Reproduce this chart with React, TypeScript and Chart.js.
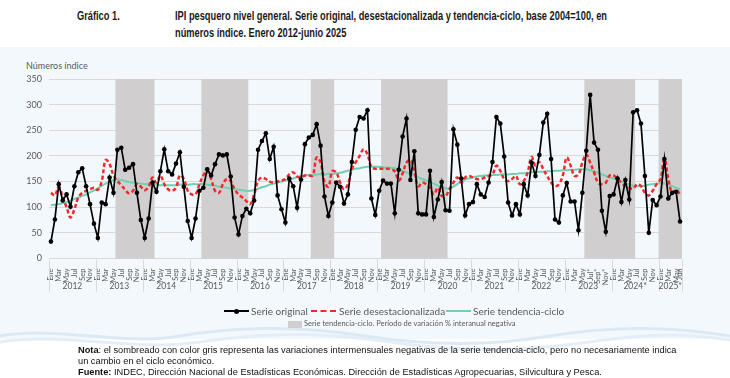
import React, { useEffect, useLayoutEffect, useRef } from "react";
import { Chart, registerables } from "chart.js";
Chart.register(...registerables);

// ---------- DATA ----------
const monthNames = ["Ene", "Feb", "Mar", "Abr", "May", "Jun", "Jul", "Ago", "Sep", "Oct", "Nov", "Dic"];
const yearLabels = ["2012", "2013", "2014", "2015", "2016", "2017", "2018", "2019", "2020", "2021", "2022", "2023", "2024*", "2025*"];
const monthsInLastYear = 6;
// months of 2023 marked as provisional in the tick labels
const provisionalFrom = "Jul 2023";
const provisionalTo = "Dic 2023";

const serieOriginal = [
  33, 76, 145, 113, 125, 101, 141, 168, 176, 141, 106, 68,
  40, 109, 106, 158, 128, 212, 216, 173, 177, 184, 128, 75,
  40, 78, 148, 130, 170, 213, 170, 164, 185, 207, 140, 73,
  40, 78, 132, 138, 174, 162, 184, 203, 201, 203, 160, 80,
  47, 83, 97, 88, 113, 212, 229, 244, 194, 218, 123, 96,
  70, 156, 141, 99, 154, 223, 236, 241, 262, 220, 121, 83,
  109, 148, 140, 107, 125, 188, 251, 276, 273, 289, 117, 85,
  132, 152, 146, 146, 88, 173, 238, 273, 153, 209, 88, 86,
  86, 171, 81, 115, 149, 94, 93, 252, 222, 156, 84, 106,
  110, 145, 125, 120, 148, 188, 276, 263, 199, 109, 84, 106,
  86, 145, 123, 187, 161, 202, 265, 282, 194, 76, 70, 123,
  147, 111, 111, 55, 128, 210, 319, 226, 212, 93, 52, 122,
  125, 156, 110, 153, 115, 285, 289, 263, 161, 50, 114, 104,
  121, 194, 117, 128, 130, 72,
];

const serieDesestacionalizada = [
  128, 123, 140, 119, 100, 80, 96, 119, 128, 132, 135, 138,
  134, 151, 192, 184, 162, 151, 143, 134, 127, 132, 145, 140,
  133, 140, 158, 148, 162, 145, 135, 132, 138, 162, 155, 132,
  125, 125, 145, 162, 171, 155, 132, 128, 145, 155, 151, 135,
  125, 119, 112, 106, 125, 151, 158, 155, 150, 148, 150, 152,
  155, 164, 168, 160, 158, 162, 162, 162, 197, 187, 150, 140,
  170, 168, 148, 135, 145, 174, 188, 200, 213, 203, 178, 175,
  175, 175, 175, 174, 170, 152, 166, 187, 192, 170, 141, 148,
  145, 138, 125, 138, 122, 122, 135, 148, 158, 148, 158, 161,
  158, 155, 155, 158, 161, 164, 181, 171, 155, 151, 155, 161,
  145, 151, 168, 198, 181, 188, 174, 161, 148, 141, 145, 162,
  197, 181, 161, 164, 187, 203, 187, 168, 148, 145, 148, 162,
  162, 155, 148, 141, 138, 136, 145, 141, 128, 123, 132, 145,
  155, 194, 155, 128, 134, 125,
];

const serieTendencia = [
  104, 105, 106, 108, 110, 113, 116, 119, 122, 125, 129, 133,
  137, 142, 146, 150, 153, 154, 153, 151, 149, 148, 147, 146,
  145, 145, 144, 144, 143, 143, 143, 143, 143, 144, 144, 144,
  145, 145, 145, 145, 144, 143, 142, 140, 139, 138, 136, 135,
  134, 133, 132, 132, 134, 136, 139, 141, 144, 146, 148, 150,
  152, 154, 156, 159, 161, 162, 163, 163, 164, 164, 164, 165,
  165, 166, 167, 169, 171, 173, 175, 176, 178, 179, 179, 179,
  179, 178, 177, 177, 176, 174, 171, 168, 165, 162, 158, 155,
  152, 149, 146, 142, 139, 137, 137, 140, 145, 150, 154, 156,
  158, 160, 161, 162, 162, 163, 163, 164, 164, 164, 165, 165,
  166, 166, 167, 168, 168, 169, 169, 170, 170, 171, 171, 172,
  172, 173, 173, 174, 174, 174, 172, 170, 167, 164, 161, 158,
  156, 153, 150, 147, 144, 142, 141, 141, 142, 144, 145, 146,
  147, 146, 144, 141, 138, 135,
];

// periods of negative variation of the trend-cycle (first and last month)
const negativePeriods: [string, string][] = [
  ["Jun 2013", "Mar 2014"],
  ["Abr 2015", "Mar 2016"],
  ["Ago 2017", "Ene 2018"],
  ["Feb 2019", "Jun 2020"],
  ["Jun 2023", "Jun 2024"],
  ["Ene 2025", "Jun 2025"],
];

const yTicks = [0, 50, 100, 150, 200, 250, 300, 350];

// ---------- DERIVED ----------
const categories: string[] = [];
const yearOfCat: number[] = [];
yearLabels.forEach((y, yi) => {
  const n = yi === yearLabels.length - 1 ? monthsInLastYear : 12;
  for (let m = 0; m < n; m++) {
    categories.push(`${monthNames[m]} ${y.replace("*", "")}`);
    yearOfCat.push(yi);
  }
});
const provIdx = categories.indexOf(provisionalFrom);
const provEnd = categories.indexOf(provisionalTo);

const GRID = "#d9d9d9";
const TXT = "#595959";
const FONT = "Lato, 'Open Sans', sans-serif";

const bandsPlugin = {
  id: "bands",
  beforeDatasetsDraw(chart: any) {
    const { ctx, chartArea, scales } = chart;
    const x = scales.x;
    const step = x.getPixelForValue(1) - x.getPixelForValue(0);
    ctx.save();
    ctx.fillStyle = "#d0cece";
    for (const [a, b] of negativePeriods) {
      const ia = categories.indexOf(a);
      const ib = categories.indexOf(b);
      const x0 = x.getPixelForValue(ia) - step / 2;
      const x1 = x.getPixelForValue(ib) + step / 2;
      ctx.fillRect(x0, chartArea.top, x1 - x0, chartArea.bottom - chartArea.top);
    }
    ctx.restore();
  },
};

const yearsPlugin = {
  id: "years",
  afterDraw(chart: any) {
    const { ctx, chartArea, scales } = chart;
    const x = scales.x;
    const step = x.getPixelForValue(1) - x.getPixelForValue(0);
    const top = chartArea.bottom;
    ctx.save();
    ctx.strokeStyle = GRID;
    ctx.lineWidth = 1;
    ctx.fillStyle = TXT;
    ctx.font = `8.5px ${FONT}`;
    ctx.textAlign = "center";
    ctx.textBaseline = "middle";
    yearLabels.forEach((y, yi) => {
      const first = yearOfCat.indexOf(yi);
      const last = yearOfCat.lastIndexOf(yi);
      const xl = x.getPixelForValue(first) - step / 2;
      const xr = x.getPixelForValue(last) + step / 2;
      ctx.beginPath();
      ctx.moveTo(Math.round(xl) + 0.5, top + 1);
      ctx.lineTo(Math.round(xl) + 0.5, top + 33);
      ctx.stroke();
      if (yi === yearLabels.length - 1) {
        ctx.beginPath();
        ctx.moveTo(Math.round(xr) + 0.5, top + 1);
        ctx.lineTo(Math.round(xr) + 0.5, top + 33);
        ctx.stroke();
      }
      ctx.fillText(y, (xl + xr) / 2, top + 28);
    });
    ctx.restore();
  },
};

function ChartCanvas() {
  const ref = useRef<HTMLCanvasElement | null>(null);
  useEffect(() => {
    if (!ref.current) return;
    const chart = new Chart(ref.current, {
      type: "line",
      data: {
        labels: categories,
        datasets: [
          {
            label: "Serie original",
            data: serieOriginal,
            borderColor: "#000000",
            backgroundColor: "#000000",
            borderWidth: 1.7,
            pointRadius: 2.3,
            pointBorderWidth: 0,
            pointBackgroundColor: "#000000",
            tension: 0,
            order: 0,
          },
          {
            label: "Serie desestacionalizada",
            data: serieDesestacionalizada,
            borderColor: "#f42a2a",
            borderWidth: 2.5,
            borderDash: [4, 2.5],
            pointRadius: 0,
            tension: 0.4,
            order: 1,
          },
          {
            label: "Serie tendencia-ciclo",
            data: serieTendencia,
            borderColor: "#72cfb4",
            borderWidth: 2,
            pointRadius: 0,
            tension: 0.4,
            order: 2,
          },
        ],
      },
      options: {
        animation: false,
        responsive: false,
        maintainAspectRatio: false,
        layout: { padding: { left: 0, right: 48, top: 79, bottom: 79.5 } },
        plugins: { legend: { display: false }, tooltip: { enabled: false } },
        scales: {
          x: {
            type: "category",
            offset: true,
            grid: { display: false },
            border: { display: false },
            afterFit: (s: any) => { s.height = 40; },
            ticks: {
              autoSkip: false,
              maxRotation: 90,
              minRotation: 90,
              padding: 2,
              color: TXT,
              font: { size: 7.5, family: FONT },
              callback: (_v: any, i: number) => {
                if (i % 2 !== 0 && i !== categories.length - 1) return "";
                const m = monthNames[i % 12];
                return i >= provIdx && i <= provEnd ? m + "*" : m;
              },
            },
          },
          y: {
            min: 0,
            max: 350,
            afterFit: (s: any) => { s.width = 49; },
            afterBuildTicks: (s: any) => { s.ticks = yTicks.map((v) => ({ value: v })); },
            grid: { color: GRID, lineWidth: 1, drawTicks: false },
            border: { display: false },
            ticks: { padding: 7, color: TXT, font: { size: 9, family: FONT } },
          },
        },
      },
      plugins: [bandsPlugin, yearsPlugin],
    });
    return () => chart.destroy();
  }, []);
  return <canvas ref={ref} width={730} height={378} style={{ position: "absolute", left: 0, top: 0, width: 730, height: 378 }} />;
}

// Fits a bold condensed-looking title by horizontally scaling to a target width
function Title() {
  const line1 = useRef<HTMLSpanElement | null>(null);
  const box = useRef<HTMLDivElement | null>(null);
  const lab = useRef<HTMLDivElement | null>(null);
  useLayoutEffect(() => {
    if (!line1.current || !box.current || !lab.current) return;
    const w = line1.current.getBoundingClientRect().width;
    const k = 432 / w;
    box.current.style.transform = `scaleX(${k})`;
    lab.current.style.transform = `scaleX(${k})`;
  }, []);
  const title: React.CSSProperties = {
    position: "absolute",
    fontFamily: "'Liberation Sans', Arial, sans-serif",
    fontWeight: "bold",
    fontSize: 12.5,
    color: "#1a1a1a",
    lineHeight: "17px",
    whiteSpace: "nowrap",
    transformOrigin: "0 0",
  };
  return (
    <>
      <div ref={lab} style={{ ...title, left: 77, top: 8 }}>Gráfico 1.</div>
      <div ref={box} style={{ ...title, left: 175, top: 8 }}>
        <span ref={line1}>IPI pesquero nivel general. Serie original, desestacionalizada y tendencia-ciclo, base 2004=100, en</span>
        <br />
        <span>números índice. Enero 2012-junio 2025</span>
      </div>
    </>
  );
}

export default function App() {
  const leg: React.CSSProperties = {
    position: "absolute",
    fontFamily: FONT,
    fontSize: 10,
    color: TXT,
    whiteSpace: "nowrap",
    lineHeight: "12px",
  };
  const note: React.CSSProperties = {
    position: "absolute",
    left: 78,
    fontFamily: "'Liberation Sans', Arial, sans-serif",
    fontSize: 9.25,
    color: "#111",
    whiteSpace: "nowrap",
    lineHeight: "11px",
  };
  return (
    <div style={{ position: "absolute", left: 0, top: 0, width: 730, height: 378, background: "#ffffff", overflow: "hidden" }}>
      <div style={{ position: "absolute", left: 0, top: 47, width: 730, height: 292, background: "#f3f8fd" }} />
      <svg width={730} height={30} style={{ position: "absolute", left: 0, top: 322 }}>
        <path d="M0 14 C 60 4, 120 24, 180 14 S 300 4, 365 14 S 490 24, 550 14 S 670 4, 730 14" stroke="#dbe9f5" strokeWidth={3} fill="none" />
        <path d="M0 20 C 70 10, 130 30, 200 20 S 320 10, 390 20 S 520 30, 590 20 S 690 12, 730 18" stroke="#e3eef8" strokeWidth={3} fill="none" />
      </svg>
      <Title />
      <div style={{ ...leg, left: 26, top: 60, fontSize: 9 }}>Números índice</div>
      <ChartCanvas />
      {/* legend row 1 */}
      <div style={{ position: "absolute", left: 224, top: 310, width: 25, height: 2, background: "#000" }} />
      <div style={{ position: "absolute", left: 233.5, top: 308.5, width: 5, height: 5, borderRadius: 3, background: "#000" }} />
      <div style={{ ...leg, left: 251, top: 305 }}>Serie original</div>
      <div style={{ position: "absolute", left: 311, top: 309.5, width: 25, height: 0, borderTop: "2.5px dashed #f42a2a" }} />
      <div style={{ ...leg, left: 339, top: 305 }}>Serie desestacionalizada</div>
      <div style={{ position: "absolute", left: 446, top: 310, width: 25, height: 2, background: "#72cfb4" }} />
      <div style={{ ...leg, left: 473, top: 305 }}>Serie tendencia-ciclo</div>
      {/* legend row 2 */}
      <div style={{ position: "absolute", left: 288, top: 321, width: 14, height: 7, background: "#d0cece" }} />
      <div style={{ ...leg, left: 304, top: 319, fontSize: 7.5, lineHeight: "10px" }}>
        Serie tendencia-ciclo. Período de variación % interanual negativa
      </div>
      {/* notes */}
      <div style={{ ...note, top: 345 }}>
        <b>Nota</b>: el sombreado con color gris representa las variaciones intermensuales negativas de la serie tendencia-ciclo, pero no necesariamente indica
      </div>
      <div style={{ ...note, top: 356 }}>un cambio en el ciclo económico.</div>
      <div style={{ ...note, top: 367 }}>
        <b>Fuente:</b> INDEC, Dirección Nacional de Estadísticas Económicas. Dirección de Estadísticas Agropecuarias, Silvicultura y Pesca.
      </div>
    </div>
  );
}
